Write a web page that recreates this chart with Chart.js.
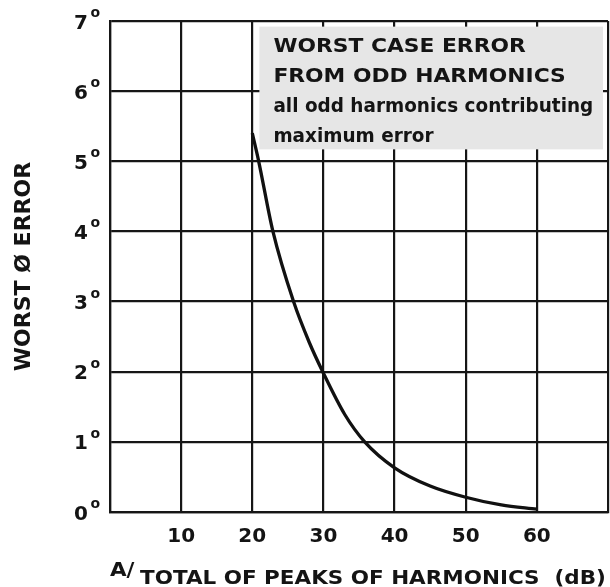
<!DOCTYPE html>
<html>
<head>
<meta charset="utf-8">
<script src="https://cdn.jsdelivr.net/npm/chart.js@4/dist/chart.umd.min.js"></script>
<style>
  html, body { margin: 0; padding: 0; background: #ffffff; }
  #wrap { width: 610px; height: 587px; }
</style>
</head>
<body>
<div id="wrap"><canvas id="chart" width="610" height="587"></canvas></div>
<script>
// Worst-case phase error versus harmonic level (dB below fundamental)
const attenuationDb = [20, 20.9, 22.9, 25.8, 28, 29.9, 33, 35.8, 40, 45, 50, 55, 60];
const worstErrorDeg = [5.4, 5.0, 4.0, 3.0, 2.42, 2.0, 1.39, 1.0, 0.63, 0.37, 0.21, 0.10, 0.04];

const xGridValues = [0, 10, 20, 30, 40, 50, 60, 70];
const xTickLabels = { 10: '10', 20: '20', 30: '30', 40: '40', 50: '50', 60: '60' };
const yTickLabels = ['0', '1', '2', '3', '4', '5', '6', '7'];
const degreeMark = 'o';

const noteLines = ['WORST CASE ERROR', 'FROM ODD HARMONICS', 'all odd harmonics contributing', 'maximum error'];
const noteBox = { x0: 21.0, x1: 69.3, y0: 5.17, y1: 6.92 };   // in axis units

const xTitlePrefix = 'A/';
const xTitle = 'TOTAL OF PEAKS OF HARMONICS  (dB)';
const yTitle = 'WORST Ø ERROR';

const INK = '#141414';
const FONT = '"DejaVu Sans", "Liberation Sans", sans-serif';

function stretchText(ctx, text, x, y, sx) {
  ctx.save();
  ctx.translate(x, y);
  ctx.scale(sx, 1);
  ctx.fillText(text, 0, 0);
  ctx.restore();
}

const decorations = {
  id: 'decorations',
  beforeDatasetsDraw(chart) {
    const { ctx, scales: { x, y } } = chart;
    // caption panel over the upper grid cells
    const left = x.getPixelForValue(noteBox.x0);
    const right = x.getPixelForValue(noteBox.x1);
    const top = y.getPixelForValue(noteBox.y1);
    const bottom = y.getPixelForValue(noteBox.y0);
    ctx.save();
    ctx.fillStyle = '#e6e6e6';
    ctx.fillRect(left, top, right - left, bottom - top);
    ctx.fillStyle = INK;
    ctx.textAlign = 'left';
    ctx.textBaseline = 'alphabetic';
    const tx = left + 14;
    ctx.font = 'bold 20px ' + FONT;
    stretchText(ctx, noteLines[0], tx, top + 25, 1.09);
    stretchText(ctx, noteLines[1], tx, top + 55, 1.09);
    ctx.font = 'bold 19px ' + FONT;
    stretchText(ctx, noteLines[2], tx, top + 85, 0.97);
    stretchText(ctx, noteLines[3], tx, top + 115, 0.97);
    ctx.restore();
  },
  afterDraw(chart) {
    const { ctx, chartArea, scales: { x, y } } = chart;
    ctx.save();
    ctx.fillStyle = INK;
    ctx.textAlign = 'left';
    ctx.textBaseline = 'alphabetic';
    // y tick labels with raised degree mark
    yTickLabels.forEach((lab, i) => {
      const py = y.getPixelForValue(i);
      ctx.font = 'bold 20px ' + FONT;
      ctx.fillText(lab, 74, py + 7.5);
      ctx.font = 'bold 14px ' + FONT;
      ctx.fillText(degreeMark, 90.5, py - 4);
    });
    // y axis title
    ctx.save();
    ctx.translate(24, (chartArea.top + chartArea.bottom) / 2);
    ctx.rotate(-Math.PI / 2);
    ctx.textAlign = 'center';
    ctx.textBaseline = 'middle';
    ctx.font = 'bold 22px ' + FONT;
    ctx.fillText(yTitle, 0, 0);
    ctx.restore();
    // x axis title
    ctx.font = 'bold 20px ' + FONT;
    stretchText(ctx, xTitlePrefix, chartArea.left, 576, 1.074);
    stretchText(ctx, xTitle, chartArea.left + 30, 584, 1.074);
    ctx.restore();
  }
};

const gridStyle = { color: '#161616', lineWidth: 2.2, drawTicks: false };
const borderStyle = { color: '#161616', width: 2.2 };

new Chart(document.getElementById('chart'), {
  type: 'line',
  data: {
    datasets: [{
      data: attenuationDb.map((v, i) => ({ x: v, y: worstErrorDeg[i] })),
      borderColor: '#111111',
      borderWidth: 3.3,
      pointRadius: 0,
      fill: false,
      cubicInterpolationMode: 'monotone'
    }]
  },
  options: {
    responsive: false,
    animation: false,
    devicePixelRatio: 1,
    layout: { padding: { top: 21, right: 2, left: 0, bottom: 0 } },
    plugins: { legend: { display: false }, tooltip: { enabled: false } },
    scales: {
      x: {
        type: 'linear',
        min: 0,
        max: 70,
        afterFit(s) { s.height = 75; s.paddingLeft = 0; s.paddingRight = 0; },
        afterBuildTicks(s) { s.ticks = xGridValues.map(v => ({ value: v })); },
        ticks: {
          autoSkip: false,
          maxRotation: 0,
          padding: 13,
          color: INK,
          font: { family: FONT, size: 20, weight: 'bold' },
          callback: v => xTickLabels[v] || ''
        },
        grid: gridStyle,
        border: borderStyle
      },
      y: {
        min: 0,
        max: 7,
        afterFit(s) { s.width = 110; s.paddingTop = 0; s.paddingBottom = 0; },
        ticks: { stepSize: 1, display: false },
        grid: gridStyle,
        border: borderStyle
      }
    }
  },
  plugins: [decorations]
});
</script>
</body>
</html>
